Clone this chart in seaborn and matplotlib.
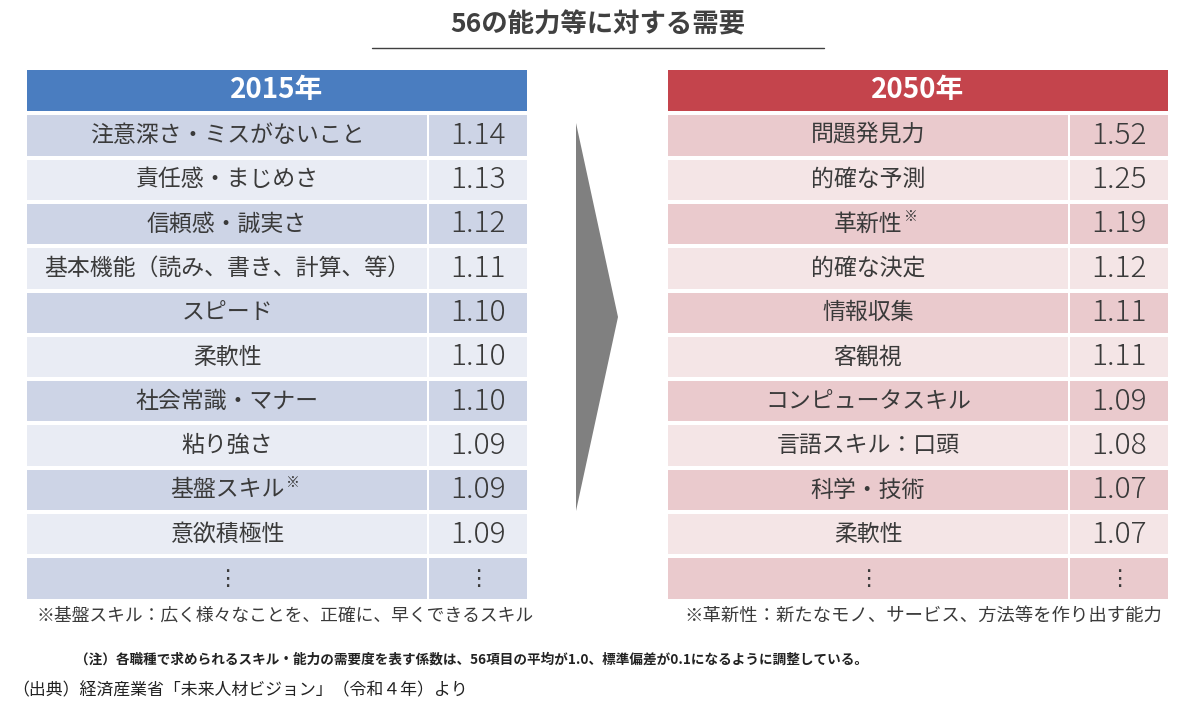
import numpy as np
import matplotlib
matplotlib.use("Agg")
import matplotlib.pyplot as plt
from matplotlib.colors import ListedColormap
import seaborn as sns

# Data
skills_2015 = ["注意深さ・ミスがないこと", "責任感・まじめさ", "信頼感・誠実さ",
               "基本機能（読み、書き、計算、等）", "スピード", "柔軟性",
               "社会常識・マナー", "粘り強さ", "基盤スキル", "意欲積極性"]
values_2015 = [1.14, 1.13, 1.12, 1.11, 1.10, 1.10, 1.10, 1.09, 1.09, 1.09]
marked_2015 = ["基盤スキル"]

skills_2050 = ["問題発見力", "的確な予測", "革新性", "的確な決定", "情報収集",
               "客観視", "コンピュータスキル", "言語スキル：口頭", "科学・技術", "柔軟性"]
values_2050 = [1.52, 1.25, 1.19, 1.12, 1.11, 1.11, 1.09, 1.08, 1.07, 1.07]
marked_2050 = ["革新性"]

title = "56の能力等に対する需要"
note_2015 = "※基盤スキル：広く様々なことを、正確に、早くできるスキル"
note_2050 = "※革新性：新たなモノ、サービス、方法等を作り出す能力"
note_main = "（注）各職種で求められるスキル・能力の需要度を表す係数は、56項目の平均が1.0、標準偏差が0.1になるように調整している。"
source = "（出典）経済産業省「未来人材ビジョン」（令和４年）より"

sns.set_theme(style="white")
plt.rcParams["font.family"] = ["Noto Sans CJK JP", "DejaVu Sans"]

W, H = 1200, 705
fig = plt.figure(figsize=(W / 100, H / 100), dpi=100)
fig.patch.set_facecolor("white")


def px_axes(x0, y0, x1, y1):
    return fig.add_axes([x0 / W, 1 - y1 / H, (x1 - x0) / W, (y1 - y0) / H])


TEXT = "#3a3a3a"
LW = 2.6          # white gap between rows, in points
PAD = LW * 100 / 72 / 2   # half of it in pixels, clipped at the axes edge


def draw_table(x0, x_div, x1, year, head_col, dark, light, names, values, marked):
    n = len(names) + 1
    shade = np.array([i % 2 for i in range(n)]).reshape(-1, 1)
    cmap = ListedColormap([dark, light])
    y0, y1 = 115, 599

    # header
    axh = px_axes(x0, 70, x1, 111)
    sns.heatmap(np.zeros((1, 1)), cmap=ListedColormap([head_col]), cbar=False,
                xticklabels=False, yticklabels=False, ax=axh,
                annot=np.array([[year]]), fmt="",
                annot_kws=dict(color="white", fontsize=20, fontweight="bold"))

    # name column
    axn = px_axes(x0 - PAD, y0 - PAD, x_div + PAD - 1, y1 + PAD)
    sns.heatmap(shade, cmap=cmap, vmin=0, vmax=1, cbar=False, linewidths=LW,
                linecolor="white", xticklabels=False, yticklabels=False, ax=axn)
    for i, name in enumerate(names):
        t = axn.text(0.5, i + 0.5, name, ha="center", va="center",
                     fontsize=16.5, color=TEXT)
        if name in marked:
            axn.annotate("※", xy=(1, 1), xycoords=t, xytext=(1, 2),
                         textcoords="offset points", ha="left", va="top",
                         fontsize=10, color=TEXT)
    axn.text(0.5, n - 0.5, "⋮", ha="center", va="center", fontsize=16, color=TEXT)

    # value column
    axv = px_axes(x_div - PAD + 1, y0 - PAD, x1 + PAD, y1 + PAD)
    sns.heatmap(shade, cmap=cmap, vmin=0, vmax=1, cbar=False, linewidths=LW,
                linecolor="white", xticklabels=False, yticklabels=False, ax=axv)
    for i, v in enumerate(values):
        axv.text(0.5, i + 0.5, f"{v:.2f}", ha="center", va="center",
                 fontsize=21.5, color=TEXT, fontweight="light")
    axv.text(0.5, n - 0.5, "⋮", ha="center", va="center", fontsize=16, color=TEXT)


draw_table(27, 428, 527, "2015年", "#4a7dc0", "#cdd4e6", "#e9ecf4",
           skills_2015, values_2015, marked_2015)
draw_table(668, 1069, 1168, "2050年", "#c4444c", "#eacacd", "#f4e5e6",
           skills_2050, values_2050, marked_2050)

# overlay for title, arrow and notes (pixel coordinates)
ov = fig.add_axes([0, 0, 1, 1], zorder=-1)
ov.set_xlim(0, W)
ov.set_ylim(H, 0)
ov.axis("off")

ov.text(598, 25, title, ha="center", va="center", fontsize=19,
        fontweight="bold", color="#404040")
ov.plot([372, 824], [48, 48], color="#404040", lw=1)

ov.fill([576, 618, 576], [123, 317, 511], color="#808080", lw=0)

ov.text(285, 616, note_2015, ha="center", va="center", fontsize=12.8, color=TEXT)
ov.text(923, 616, note_2050, ha="center", va="center", fontsize=13.2, color=TEXT)
ov.text(75, 660, note_main, ha="left", va="center", fontsize=9.8,
        fontweight="bold", color="#222222")
ov.text(12, 690, source, ha="left", va="center", fontsize=12.2, color="#222222")

fig.savefig("out.png", dpi=100, facecolor="white")
